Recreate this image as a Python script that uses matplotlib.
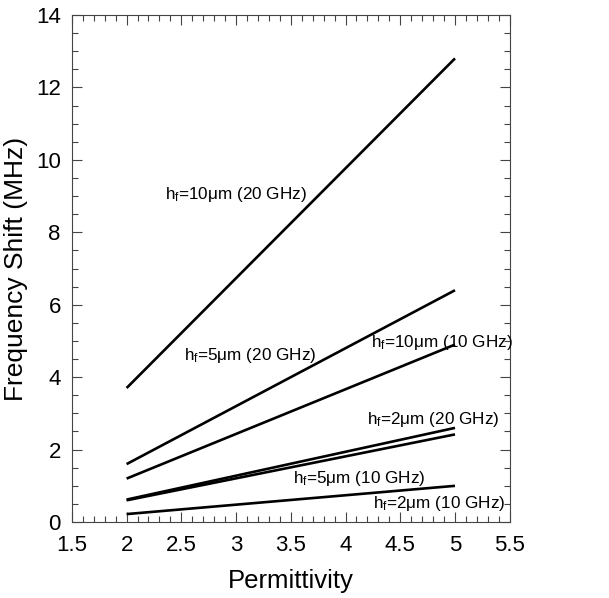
import matplotlib
matplotlib.use("Agg")
import matplotlib.pyplot as plt
from matplotlib.ticker import MultipleLocator, FuncFormatter

plt.rcParams['font.family'] = ['Liberation Sans', 'DejaVu Sans']
plt.rcParams['mathtext.fontset'] = 'custom'
plt.rcParams['mathtext.rm'] = 'Liberation Sans'
plt.rcParams['mathtext.it'] = 'Liberation Sans'

permittivity = [2, 5]
shift_10um_20GHz = [3.7, 12.8]
shift_5um_20GHz = [1.6, 6.4]
shift_10um_10GHz = [1.2, 4.9]
shift_2um_20GHz = [0.62, 2.6]
shift_5um_10GHz = [0.6, 2.42]
shift_2um_10GHz = [0.22, 1.0]

series = [shift_10um_20GHz, shift_5um_20GHz, shift_10um_10GHz,
          shift_2um_20GHz, shift_5um_10GHz, shift_2um_10GHz]

labels = [
    ("h$_\\mathrm{f}$=10μm (20 GHz)", 2.35, 9.03),
    ("h$_\\mathrm{f}$=5μm (20 GHz)", 2.52, 4.61),
    ("h$_\\mathrm{f}$=10μm (10 GHz)", 4.23, 4.97),
    ("h$_\\mathrm{f}$=2μm (20 GHz)", 4.20, 2.82),
    ("h$_\\mathrm{f}$=5μm (10 GHz)", 3.52, 1.19),
    ("h$_\\mathrm{f}$=2μm (10 GHz)", 4.25, 0.52),
]

fig = plt.figure(figsize=(6.09, 5.98), dpi=100)
ax = fig.add_axes([0.118, 0.127, 0.719, 0.848])

for s in series:
    ax.plot(permittivity, s, color='black', lw=1.9, solid_capstyle='butt')

for text, x, y in labels:
    ax.text(x, y, text, fontsize=12.3, va='center', ha='left')

ax.set_xlim(1.5, 5.5)
ax.set_ylim(0, 14)
ax.xaxis.set_major_locator(MultipleLocator(0.5))
ax.xaxis.set_minor_locator(MultipleLocator(0.1))
ax.yaxis.set_major_locator(MultipleLocator(2))
ax.yaxis.set_minor_locator(MultipleLocator(0.5))
ax.xaxis.set_major_formatter(FuncFormatter(lambda v, p: f"{v:g}"))
ax.tick_params(which='both', direction='in', top=True, right=True, labelsize=16, width=0.8, color='#444444')
ax.tick_params(which='major', length=7)
ax.tick_params(axis='x', which='major', pad=9)
ax.tick_params(axis='y', which='major', pad=8)
ax.tick_params(which='minor', length=4)
for sp in ax.spines.values():
    sp.set_linewidth(0.8)
    sp.set_color('#444444')

ax.set_xlabel('Permittivity', fontsize=18.5, labelpad=10)
ax.set_ylabel('Frequency Shift (MHz)', fontsize=19, labelpad=6)

fig.savefig('out.png', dpi=100)
